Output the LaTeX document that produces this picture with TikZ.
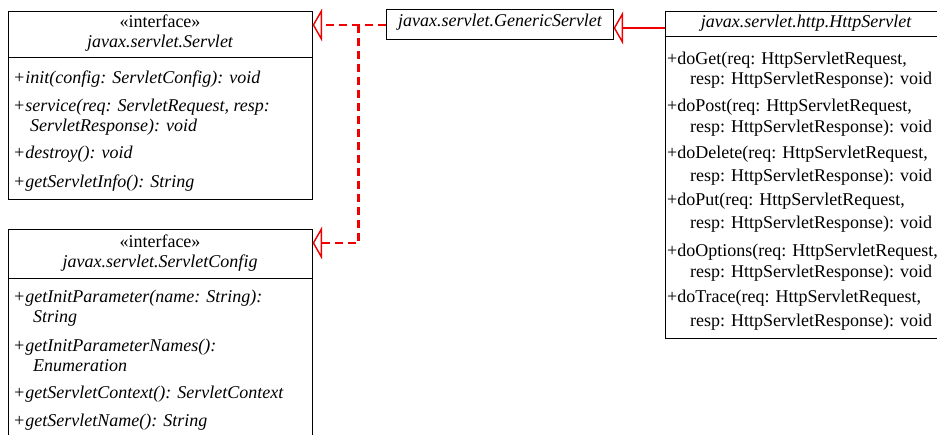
\documentclass[tikz,border=0pt]{standalone}
\usepackage{fontspec}
\setmainfont{Liberation Serif}
\usetikzlibrary{arrows.meta}
\definecolor{umlred}{RGB}{240,0,0}
\begin{document}
\begin{tikzpicture}[x=1pt,y=-1pt,
  font=\fontsize{18}{20}\selectfont,
  box/.style={draw, line width=1.4pt, inner sep=0pt, anchor=north west},
  txt/.style={inner sep=0pt, anchor=base west},
  ctr/.style={inner sep=0pt, anchor=base},
  divider/.style={line width=1pt},
  realize/.style={draw=umlred, line width=2.2pt, dash pattern=on 8pt off 5pt,
    -{Triangle[open, length=9.5pt, width=33pt, line width=1.4pt]}},
  inherit/.style={draw=umlred, line width=1.4pt,
    -{Triangle[open, length=9.5pt, width=33pt]}}
]
\useasboundingbox (0,0) rectangle (937,435);

% ---- javax.servlet.Servlet ----
\node[box, minimum width=304pt, minimum height=188pt] (srv) at (8,11) {};
\draw[divider] (8,58) coordinate (srvdl) -- (313,58) coordinate (srvdr);
\node[ctr] (s0) at (160,28) {«interface»};
\node[ctr] (s1) at (160,48) {\itshape javax.servlet.Servlet};
\node[txt] (s2) at (13,84) {\itshape +init(config: ServletConfig): void};
\node[txt] (s3) at (13,112) {\itshape +service(req: ServletRequest, resp:};
\node[txt] (s4) at (30,132) {\itshape ServletResponse): void};
\node[txt] (s5) at (13,159) {\itshape +destroy(): void};
\node[txt] (s6) at (13,188) {\itshape +getServletInfo(): String};

% ---- javax.servlet.ServletConfig ----
\node[box, minimum width=304pt, minimum height=230pt] (cfg) at (8,229) {};
\draw[divider] (8,279) coordinate (cfgdl) -- (313,279) coordinate (cfgdr);
\node[ctr] (c0) at (160,248) {«interface»};
\node[ctr] (c1) at (160,268) {\itshape javax.servlet.ServletConfig};
\node[txt] (c2) at (13,303) {\itshape +getInitParameter(name: String):};
\node[txt] (c3) at (33,323) {\itshape String};
\node[txt] (c4) at (13,352) {\itshape +getInitParameterNames():};
\node[txt] (c5) at (33,372) {\itshape Enumeration};
\node[txt] (c6) at (13,399) {\itshape +getServletContext(): ServletContext};
\node[txt] (c7) at (13,427) {\itshape +getServletName(): String};

% ---- javax.servlet.GenericServlet ----
\node[box, minimum width=227pt, minimum height=30pt] (gsb) at (386,9) {};
\node[ctr] (gs) at (500,27) {\itshape javax.servlet.GenericServlet};

% ---- javax.servlet.http.HttpServlet ----
\node[box, minimum width=283pt, minimum height=327pt] (http) at (665,11) {};
\draw[divider] (665,37) coordinate (httpdl) -- (950,37) coordinate (httpdr);
\node[ctr] (h0) at (806,28) {\itshape javax.servlet.http.HttpServlet};
\node[txt] (h1) at (667,65) {+doGet(req: HttpServletRequest,};
\node[txt] (h2) at (690,85) {resp: HttpServletResponse): void};
\node[txt] (h3) at (667,112) {+doPost(req: HttpServletRequest,};
\node[txt] (h4) at (690,133) {resp: HttpServletResponse): void};
\node[txt] (h5) at (667,159) {+doDelete(req: HttpServletRequest,};
\node[txt] (h6) at (690,182) {resp: HttpServletResponse): void};
\node[txt] (h7) at (667,206) {+doPut(req: HttpServletRequest,};
\node[txt] (h8) at (690,229) {resp: HttpServletResponse): void};
\node[txt] (h9) at (667,257) {+doOptions(req: HttpServletRequest,};
\node[txt] (h10) at (690,278) {resp: HttpServletResponse): void};
\node[txt] (h11) at (667,303) {+doTrace(req: HttpServletRequest,};
\node[txt] (h12) at (690,327) {resp: HttpServletResponse): void};

% ---- connectors ----
\coordinate (gsout) at (386,25);
\coordinate (srvin) at (312.6,25);
\coordinate (junc) at (358.5,25);
\coordinate (cfgin) at (312.6,243);
\coordinate (httpout) at (664.5,28);
\coordinate (gsin) at (613.6,28);
\draw[realize] (gsout) -- (srvin);
\draw[realize] (junc) |- (cfgin);
\draw[inherit] (httpout) -- (gsin);
\end{tikzpicture}
\end{document}
